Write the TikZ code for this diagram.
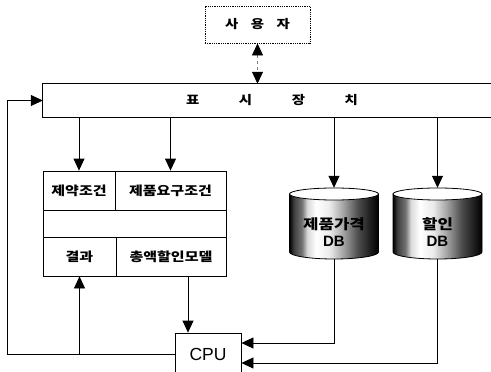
\documentclass[tikz,border=0pt]{standalone}
\usepackage{fontspec}
\setmainfont{Liberation Sans}
\newfontfamily\kr[FakeStretch=1.2, BoldFont={Noto Sans CJK KR Black}]{Noto Sans CJK KR}
\usetikzlibrary{arrows.meta,calc}
\pgfdeclarehorizontalshading{cylshade}{100bp}{color(0bp)=(black); color(25bp)=(black); color(27.5bp)=(black!75); color(32bp)=(black!55); color(35bp)=(black!15); color(40bp)=(white); color(47.5bp)=(black!8); color(55bp)=(black!35); color(63.5bp)=(black!70); color(71bp)=(black!90); color(75bp)=(black); color(100bp)=(black)}
\newcommand\dbbody[1]{%
  \path[draw, line width=0.8pt, shading=cylshade] (#1-44.5,194) -- (#1-44.5,252)
    arc[start angle=180, end angle=360, x radius=44.5pt, y radius=7pt] -- (#1+44.5,194) -- cycle;
  \draw[line width=0.8pt, fill=white] (#1,194) ellipse[x radius=44.5pt, y radius=6pt];}
\begin{document}
\begin{tikzpicture}[x=1pt,y=-1pt,
  ln/.style={line width=0.8pt},
  arr/.style={ln, -{Triangle[length=12pt,width=11pt]}},
  cell/.style={draw, ln, inner sep=0pt, font=\kr\bfseries\fontsize{12.5pt}{14pt}\selectfont},
  ktext/.style={inner sep=0pt, font=\kr\bfseries\fontsize{12pt}{13pt}\selectfont},
  dbtext/.style={inner sep=0pt, align=center, font=\bfseries\fontsize{15pt}{17pt}\selectfont},
  blank/.style={inner sep=0pt, draw=none}]
\useasboundingbox (0,0) rectangle (491,372);
% user
\node[ktext, draw, densely dotted, ln, minimum width=105pt, minimum height=37pt] (user) at (257.5,24.5)
  {사\hspace{12.6pt}용\hspace{12.6pt}자};
% display
\node[ktext, minimum width=458pt, minimum height=33pt] (disp) at (272,100.5)
  {표\hspace{39.6pt}시\hspace{39.6pt}장\hspace{39.6pt}치};
\draw[ln] (disp.north east) -- (disp.north west) -- (disp.south west) -- (disp.south east);
% table
\node[cell, minimum width=72pt, minimum height=39pt] (c11) at (79,190.5) {제약조건};
\node[cell, minimum width=111pt, minimum height=39pt] (c12) at (170.5,190.5) {제품요구조건};
\node[cell, minimum width=183pt, minimum height=27pt] (c2) at (134.5,223.5) {};
\node[cell, minimum width=73pt, minimum height=39pt] (c31) at (79.5,256.5) {결과};
\node[cell, minimum width=110pt, minimum height=39pt] (c32) at (171,256.5) {총액할인모델};
% databases
\dbbody{334}
\dbbody{437.5}
\node[blank, minimum width=89pt, minimum height=71pt] (db1) at (334,223.5) {};
\node[blank, minimum width=89pt, minimum height=71pt] (db2) at (437.5,223.5) {};
\node[dbtext] (db1t) at ([yshift=-8.5pt]db1.center) {{\kr\fontsize{14pt}{17pt}\selectfont 제품가격}\\DB};
\node[dbtext] (db2t) at ([yshift=-8.5pt]db2.center) {{\kr\fontsize{14pt}{17pt}\selectfont 할인}\\DB};
% cpu
\node[draw, ln, minimum width=66pt, minimum height=43pt, inner sep=0pt, font=\fontsize{17.5pt}{20pt}\selectfont] (cpu) at (208,354.5) {CPU};
\coordinate (fb) at (7,0);
% connectors
\draw[ln, gray, dashed, {Triangle[length=12pt,width=11pt,color=black]}-{Triangle[length=12pt,width=11pt,color=black]}]
  (user.south) -- (user.south |- disp.north);
\draw[arr] (c11.north |- disp.south) -- (c11.north);
\draw[arr] (c12.north |- disp.south) -- (c12.north);
\draw[arr] (db1.north |- disp.south) -- (db1.north);
\draw[arr] (db2.north |- disp.south) -- (db2.north);
\draw[arr] (db1.south) |- ([yshift=11.5pt]cpu.east);
\draw[arr] (db2.south) |- ([yshift=-8.5pt]cpu.east);
\draw[arr] (cpu.west) -| (fb |- disp.west) -- (disp.west);
\draw[arr] (c31.south |- cpu.west) -- (c31.south);
\draw[arr] ([xshift=17pt]c32.south) -- ([xshift=17pt]c32.south |- cpu.north);
\end{tikzpicture}
\end{document}
